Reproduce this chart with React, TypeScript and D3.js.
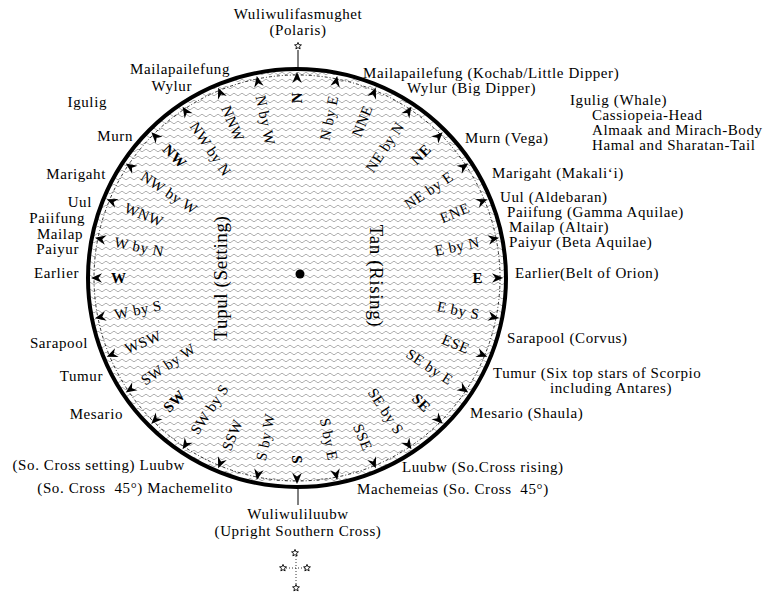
import React from "react";
import * as d3 from "d3";

// the 32 houses of the star compass, clockwise from north
const points = [
  "N", "N by E", "NNE", "NE by N", "NE", "NE by E", "ENE", "E by N",
  "E", "E by S", "ESE", "SE by E", "SE", "SE by S", "SSE", "S by E",
  "S", "S by W", "SSW", "SW by S", "SW", "SW by W", "WSW", "W by S",
  "W", "W by N", "WNW", "NW by W", "NW", "NW by N", "NNW", "N by W",
];
const boldPoints = ["N", "NE", "E", "SE", "S", "SW", "W", "NW"];

// rising stars (east side) and setting stars (west side)
const risingLabels = [
  ["Mailapailefung (Kochab/Little Dipper)"],
  ["Wylur (Big Dipper)"],
  ["Igulig (Whale)", "Cassiopeia-Head", "Almaak and Mirach-Body", "Hamal and Sharatan-Tail"],
  ["Murn (Vega)"],
  ["Marigaht (Makali\u2018i)"],
  ["Uul (Aldebaran)"],
  ["Paiifung (Gamma Aquilae)", "Mailap (Altair)", "Paiyur (Beta Aquilae)"],
  ["Earlier(Belt of Orion)"],
  ["Sarapool (Corvus)"],
  ["Tumur (Six top stars of Scorpio", "including Antares)"],
  ["Mesario (Shaula)"],
  ["Luubw (So.Cross rising)"],
  ["Machemeias (So. Cross  45\u00b0)"],
];
const settingLabels = [
  ["Mailapailefung"],
  ["Wylur"],
  ["Igulig"],
  ["Murn"],
  ["Marigaht"],
  ["Uul"],
  ["Paiifung", "Mailap", "Paiyur"],
  ["Earlier"],
  ["Sarapool"],
  ["Tumur"],
  ["Mesario"],
  ["(So. Cross setting) Luubw"],
  ["(So. Cross  45\u00b0) Machemelito"],
];
const northStar = ["Wuliwulifasmughet", "(Polaris)"];
const southStar = ["Wuliwuliluubw", "(Upright Southern Cross)"];

// where each label block sits: [x, baseline y, line height, x of later lines]
const risingPos = [
  [363, 78, 15], [407, 93, 15], [570, 105, 15, 592], [465, 143, 15], [492, 178, 15],
  [500, 202, 15], [507, 217, 15, 509], [515, 278, 15], [507, 343, 15],
  [493, 378, 15, 550], [470, 418, 15], [402, 472, 15], [357, 494, 15],
];
const settingPos = [
  [230, 74, 15], [192, 91, 15], [107, 107, 15], [133, 141, 15], [106, 179, 15],
  [92, 207, 15], [85, 223, 15.5], [79, 278, 15], [88, 348, 15],
  [103, 381, 15], [123, 419, 15], [185, 470, 15], [233, 493, 15],
];
const lineOffsets = [[0, 0], [-2, 0], [-6, 0]];

const W = 769;
const H = 592;
const cx = 297;
const cy = 278;
const R = 209;
const FONT = "'Liberation Serif', 'Times New Roman', serif";

const bearing = d3.scaleLinear().domain([0, points.length]).range([0, 360]);

function Star({ x, y, s = 3.6 }: { x: number; y: number; s?: number }) {
  const pts = d3.range(10).map((i) => {
    const a = (i * Math.PI) / 5 - Math.PI / 2;
    const rr = i % 2 === 0 ? s : s * 0.45;
    return [x + rr * Math.cos(a), y + rr * Math.sin(a)] as [number, number];
  });
  const d = d3.line()(pts) + "Z";
  return <path d={d} fill="white" stroke="black" strokeWidth={0.9} />;
}

function LabelBlock({ lines, pos, anchor }: { lines: string[]; pos: number[]; anchor: string }) {
  const [x, y, lh, x2] = pos;
  return (
    <g>
      {lines.map((t, i) => (
        <text
          key={i}
          x={i === 0 ? x : x2 ?? x + (anchor === "end" ? lineOffsets[i][0] : 0)}
          y={y + i * lh}
          textAnchor={anchor}
          style={{ whiteSpace: "pre" }}
        >
          {t}
        </text>
      ))}
    </g>
  );
}

export default function App() {
  const wave = "M0,3.5 Q2,0.8 4,3.5 T8,3.5";
  const arrow = "M0,0 L-11,-4.8 L-7.5,0 L-11,4.8 Z";
  const fontSize = 15;

  return (
    <div style={{ position: "fixed", left: 0, top: 0, background: "white" }}>
      <svg width={W} height={H} style={{ display: "block" }} fontFamily={FONT} fontSize={fontSize}>
        <defs>
          <pattern id="wavy" width={8} height={7} patternUnits="userSpaceOnUse">
            <path d={wave} fill="none" stroke="#b0b0b0" strokeWidth={1} />
          </pattern>
        </defs>
        <rect width={W} height={H} fill="white" />

        {/* north line and Polaris */}
        <line x1={cx + 1} x2={cx + 1} y1={cy - R} y2={50} stroke="black" strokeWidth={1} />
        <Star x={cx + 1} y={46} />
        <text x={cx + 1} y={19} textAnchor="middle" letterSpacing={0.6}>{northStar[0]}</text>
        <text x={cx + 1} y={35} textAnchor="middle" letterSpacing={0.6}>{northStar[1]}</text>

        {/* south line and Southern Cross */}
        <line x1={cx + 1} x2={cx + 1} y1={cy + R} y2={505} stroke="black" strokeWidth={1} />
        <text x={cx + 1} y={519} textAnchor="middle" letterSpacing={0.6}>{southStar[0]}</text>
        <text x={cx + 1} y={536} textAnchor="middle" letterSpacing={0.6}>{southStar[1]}</text>
        <line x1={296} x2={296} y1={556} y2={586} stroke="black" strokeWidth={0.8} strokeDasharray="1,2" />
        <line x1={286} x2={305} y1={568} y2={568} stroke="black" strokeWidth={0.8} strokeDasharray="1,2" />
        <Star x={295} y={553} />
        <Star x={283} y={568} />
        <Star x={307} y={568} />
        <Star x={296} y={588} />

        {/* compass disc */}
        <circle cx={cx} cy={cy} r={R} fill="url(#wavy)" />
        <circle cx={cx} cy={cy} r={R - 6} fill="none" stroke="black" strokeWidth={0.8} strokeDasharray="3,2,1,2" />
        <circle cx={cx} cy={cy} r={R} fill="none" stroke="black" strokeWidth={4} />
        <circle cx={cx + 3} cy={cy - 4} r={4.5} fill="black" />

        {/* arrows and point names */}
        <g transform={`translate(${cx},${cy})`}>
          {points.map((p, i) => {
            const b = bearing(i);
            const right = b <= 180;
            const bold = boldPoints.includes(p);
            return (
              <g key={p} transform={`rotate(${b - 90})`}>
                <path d={arrow} transform={`translate(${R - 3},0)`} fill="black" />
                <text
                  transform={`translate(${R - 23},0)${right ? "" : " rotate(180)"}`}
                  textAnchor={right ? "end" : "start"}
                  dy="0.35em"
                  fontWeight={bold ? "bold" : "normal"}
                  letterSpacing={0.5}
                >
                  {p}
                </text>
              </g>
            );
          })}
        </g>

        {/* rising / setting captions */}
        <text transform={`translate(370,276) rotate(90)`} textAnchor="middle" fontSize={19} letterSpacing={0.6}>
          Tan (Rising)
        </text>
        <text transform={`translate(227,278) rotate(-90)`} textAnchor="middle" fontSize={19} letterSpacing={0.6}>
          Tupul (Setting)
        </text>

        {/* star names around the compass */}
        <g letterSpacing={0.6}>
          {risingLabels.map((l, i) => (
            <LabelBlock key={"r" + i} lines={l} pos={risingPos[i]} anchor="start" />
          ))}
          {settingLabels.map((l, i) => (
            <LabelBlock key={"s" + i} lines={l} pos={settingPos[i]} anchor="end" />
          ))}
        </g>
      </svg>
    </div>
  );
}
